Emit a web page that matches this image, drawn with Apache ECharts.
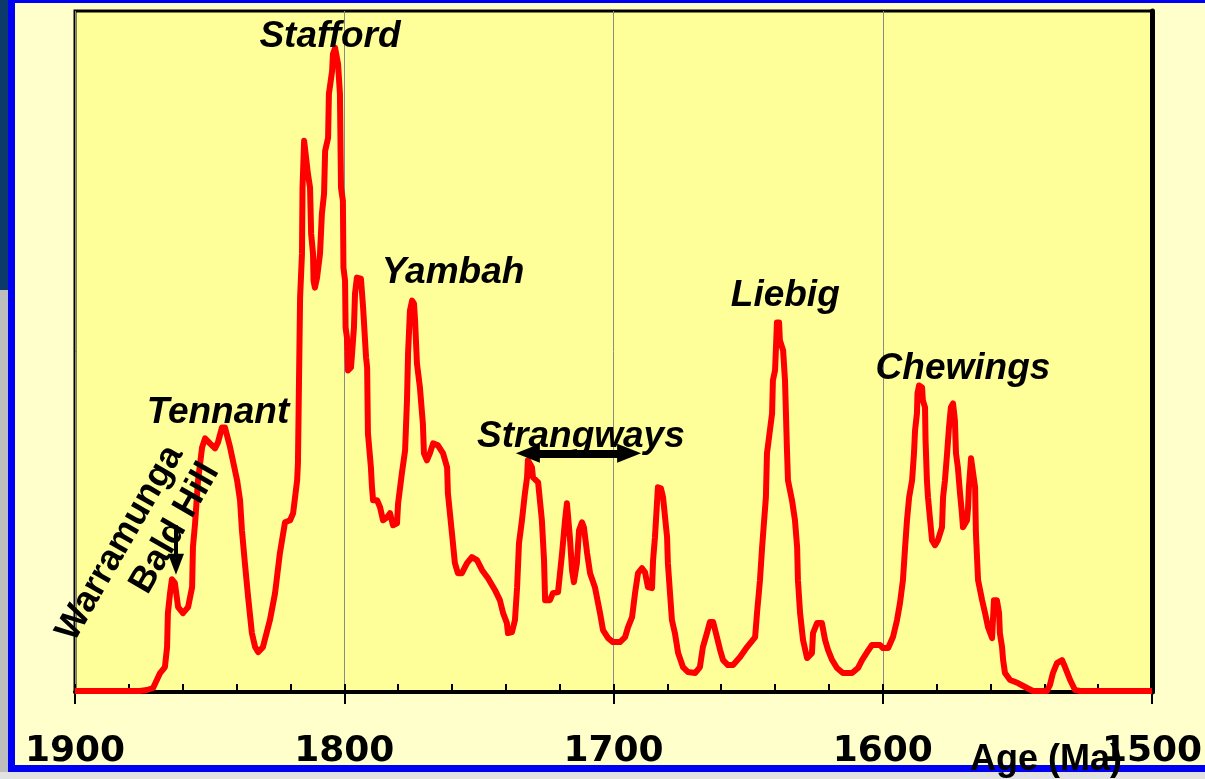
<!DOCTYPE html>
<html><head><meta charset="utf-8">
<script src="https://cdn.jsdelivr.net/npm/echarts@6/dist/echarts.min.js"></script>
<style>
html,body{margin:0;padding:0;width:1205px;height:779px;overflow:hidden;background:#FFFFCC;}
#navy{position:absolute;left:0;top:0;width:8px;height:290px;background:#0B3A6B;}
#photo{position:absolute;left:0;top:290px;width:8px;height:489px;background:#BDBDBD;}
#bottom{position:absolute;left:0;top:772px;width:1205px;height:7px;background:#E2E2E2;}
#frame{position:absolute;left:8px;top:0;width:1300px;height:762px;border-left:7px solid #0000F5;border-top:3px solid #0000F5;border-bottom:7px solid #0000F5;}
#chart{position:absolute;left:0;top:0;width:1205px;height:779px;}
</style></head>
<body>
<div id="navy"></div><div id="photo"></div><div id="bottom"></div><div id="frame"></div>
<div id="chart"></div>
<script>
// Age (Ma) vs relative probability (arbitrary units, 0-682)
const segTennant = [[1900,1],[1875.9,1],[1873.3,2],[1871.0,4],[1868.4,19],[1866.6,25],[1865.8,45],[1865.5,79],[1864.7,99],[1864.0,113],[1862.9,109],[1861.7,85],[1859.9,79],[1858.0,85],[1856.5,105],[1856.2,145],[1855.4,169],[1854.3,212],[1852.8,245],[1851.7,254],[1849.9,249],[1848.0,244],[1846.9,250],[1845.4,265],[1844.3,265],[1842.4,245],[1839.8,212],[1838.7,192],[1838.0,162],[1836.9,129],[1835.7,95],[1834.3,59],[1833.1,45],[1832.0,40],[1830.2,45],[1827.6,72],[1825.7,99],[1823.9,139],[1822.0,170],[1820.1,172],[1819.0,179]];
const segStafford = [[1817.5,212],[1817.2,229],[1816.8,312],[1816.4,395],[1815.7,439],[1815.5,505],[1814.9,552],[1814.2,552],[1813.5,519],[1812.7,505],[1812.3,459],[1811.6,439],[1811.4,412],[1810.9,405],[1810.1,415],[1809.0,439],[1808.3,479],[1807.5,499],[1807.1,542],[1806.0,555],[1805.7,599],[1804.5,622],[1804.2,639],[1803.4,645],[1802.7,645],[1802.3,629],[1801.6,599],[1801.2,505],[1800.5,492],[1800.3,425],[1799.7,412],[1799.5,365],[1799.0,355],[1798.6,322],[1797.5,325],[1797.1,339],[1796.4,365],[1796.0,399],[1795.3,415],[1793.8,414],[1793.0,385],[1791.9,335],[1791.5,325],[1791.2,259],[1790.1,225],[1789.7,205],[1789.3,192],[1787.8,192],[1786.7,185],[1785.6,172],[1784.1,175],[1783.0,179],[1781.9,167],[1780.4,169]];
const segYambah = [[1780.0,189],[1778.6,219],[1777.4,242],[1776.7,292],[1776.3,339],[1775.6,382],[1774.8,392],[1774.1,389],[1773.7,372],[1773.0,329],[1771.9,305],[1770.8,269],[1770.4,239],[1769.3,232],[1768.2,239],[1767.0,249],[1765.2,247],[1763.3,239],[1761.8,225],[1761.5,199],[1760.0,159],[1758.9,129],[1757.8,119],[1756.3,119],[1754.4,129],[1752.6,135],[1750.7,132],[1748.8,122],[1746.6,114],[1744.0,102],[1742.2,92],[1741.0,79],[1739.6,69],[1739.2,59],[1737.7,60]];
const segStrangways = [[1736.6,72],[1735.8,105],[1735.1,149],[1734.0,172],[1732.9,199],[1732.1,215],[1731.8,232],[1730.3,225],[1729.9,215],[1728.0,210],[1726.6,172],[1725.8,132],[1725.4,92],[1723.6,92],[1722.5,99],[1720.6,100],[1719.1,139],[1718.0,172],[1717.3,189],[1716.9,189],[1716.2,155],[1715.4,122],[1714.7,110],[1713.6,129],[1712.8,162],[1711.7,170],[1711.0,165],[1709.8,139],[1708.7,119],[1706.9,105],[1705.0,79],[1703.9,62],[1702.0,54],[1700.2,50],[1697.6,50],[1695.7,55],[1694.6,65],[1693.1,75],[1692.0,99],[1690.9,119],[1689.4,124],[1688.3,120],[1687.2,105],[1685.7,104],[1685.3,132],[1684.6,155],[1683.5,205],[1682.4,204],[1681.6,195],[1680.1,155],[1679.8,129],[1678.3,72],[1677.2,59],[1676.0,39],[1674.2,25],[1672.3,20],[1669.7,19]];
const segLiebig = [[1667.9,25],[1666.8,45],[1665.3,59],[1664.2,70],[1663.0,70],[1661.6,55],[1660.4,42],[1659.3,32],[1657.5,27],[1655.6,27],[1653.0,35],[1650.4,45],[1647.4,55],[1646.7,79],[1645.6,112],[1644.8,145],[1643.4,195],[1643.0,239],[1641.1,279],[1640.8,312],[1640.0,322],[1639.6,349],[1639.3,370],[1638.5,370],[1638.2,352],[1637.0,342],[1636.3,312],[1635.6,245],[1635.2,212],[1633.7,192],[1632.6,172],[1631.8,145],[1631.5,112],[1630.7,79],[1629.6,52],[1628.1,34],[1626.3,39],[1625.9,59],[1624.4,69],[1622.6,69],[1621.4,52],[1620.3,42],[1618.8,32],[1617.0,24],[1614.8,19],[1611.4,19],[1609.2,24],[1607.7,32],[1605.8,40],[1604.0,47],[1601.0,47],[1599.9,44],[1598.0,44]];
const segChewings = [[1596.2,55],[1594.7,72],[1593.6,89],[1592.5,112],[1591.7,145],[1591.0,172],[1590.2,195],[1589.1,212],[1588.4,239],[1588.0,262],[1587.3,279],[1587.1,299],[1586.5,307],[1585.4,305],[1585.1,292],[1584.3,285],[1584.1,252],[1583.6,212],[1583.2,195],[1582.4,172],[1581.7,152],[1580.6,147],[1579.5,152],[1578.0,165],[1577.6,195],[1576.9,212],[1576.1,239],[1575.4,265],[1574.7,285],[1573.9,289],[1573.5,289],[1573.2,272],[1572.8,239],[1572.1,225],[1571.3,199],[1570.6,179],[1570.2,165],[1569.5,165],[1568.7,172],[1568.3,185],[1568.0,205],[1567.2,234],[1566.5,234],[1565.7,205],[1565.4,159],[1564.6,112],[1563.1,92],[1562.0,79],[1560.9,65],[1559.4,54],[1559.1,54],[1558.7,92],[1557.6,92],[1556.8,79],[1556.5,59],[1555.7,45],[1555.3,32],[1554.6,19]];
const segTail = [[1552.7,12],[1549.8,9],[1546.4,4],[1544.2,1],[1539.0,1],[1537.9,7],[1536.8,19],[1535.3,29],[1533.4,32],[1532.3,25],[1530.4,12],[1528.6,2],[1526.7,1],[1500,1]];

const tickAges = [1500, 1600, 1700, 1800, 1900];
const eventNames = ['Stafford','Yambah','Tennant','Liebig','Chewings','Strangways','Warramunga','Bald Hill'];
const eventAges  = [1805.3, 1759.6, 1846.9, 1636.2, 1570.2, 1712.1, 1883.3, 1862.9];
const eventLevels = [656, 420, 280, 397, 324, 256, 149, 164];
// arrows: [fromAge, fromLevel, toAge, toLevel]
const strangwaysSpan = [1731.8, 239, 1694.2, 239];
const baldHillArrow = [1862.5, 167, 1862.5, 128];

const curve = [].concat(segTennant, segStafford, segYambah, segStrangways, segLiebig, segChewings, segTail);

const chart = echarts.init(document.getElementById('chart'));
const rotated = {'Warramunga': 60, 'Bald Hill': 60};

const option = {
  animation: false,
  grid: {left: 75, right: 53, top: 11, bottom: 87, show: true, backgroundColor: '#FFFF99', borderColor: '#000', borderWidth: 3,
         outerBoundsMode: 'none', containLabel: false},
  xAxis: [{
    type: 'value', min: tickAges[0], max: tickAges[tickAges.length-1], interval: 100, inverse: true,
    axisLine: {show: true, onZero: false, lineStyle: {color: '#000', width: 4}},
    axisTick: {show: true, inside: false, length: 12, lineStyle: {color: '#000', width: 2}},
    axisLabel: {margin: 42, color: '#000', fontFamily: 'DejaVu Sans', fontWeight: 'bold', fontSize: 36,
                formatter: v => String(v), hideOverlap: false},
    splitLine: {show: true, lineStyle: {color: '#8a8a8a', width: 1}}
  }, {
    type: 'value', position: 'bottom', min: 1500, max: 1900, interval: 20, inverse: true,
    axisLine: {show: false},
    axisTick: {show: true, inside: true, length: 8, lineStyle: {color: '#000', width: 2}},
    axisLabel: {show: false}, splitLine: {show: false}
  }],
  yAxis: [{type: 'value', min: 0, max: 682, show: false},
    {type: 'value', position: 'right', min: 0, max: 682,
     axisLine: {show: true, lineStyle: {color: '#000', width: 5}},
     axisTick: {show: false}, axisLabel: {show: false}, splitLine: {show: false}}],
  series: [{
    type: 'line', data: curve, xAxisIndex: 0, yAxisIndex: 0, symbol: 'none', z: 3,
    lineStyle: {color: '#FF0000', width: 6, join: 'round'},
    emphasis: {disabled: true},
    markLine: {
      silent: true, label: {show: false}, emphasis: {disabled: true},
      data: [
        [{coord: [strangwaysSpan[0], strangwaysSpan[1]], symbol: 'triangle', symbolSize: [19, 24], lineStyle: {color: '#000', width: 8, type: 'solid'}},
         {coord: [strangwaysSpan[2], strangwaysSpan[3]], symbol: 'triangle', symbolSize: [19, 24]}],
        [{coord: [baldHillArrow[0], baldHillArrow[1]], symbol: 'none', lineStyle: {color: '#000', width: 4, type: 'solid'}},
         {coord: [baldHillArrow[2], baldHillArrow[3]], symbol: 'triangle', symbolSize: [16, 21]}]
      ],
      itemStyle: {color: '#000'}
    },
    markPoint: {
      silent: true, symbol: 'circle', symbolSize: 1, itemStyle: {color: 'rgba(0,0,0,0)'},
      label: {show: true, position: 'inside', color: '#000', fontFamily: 'Liberation Sans', fontWeight: 'bold', fontStyle: 'italic', fontSize: 37},
      data: eventNames.map((n, i) => ({
        coord: [eventAges[i], eventLevels[i]], value: n,
        label: rotated[n] ? {formatter: n, rotate: rotated[n], fontStyle: 'normal', fontSize: 36} : {formatter: n}
      }))
    }
  }],
  graphic: [{
    type: 'text', x: 970, y: 760, z: 100,
    style: {text: 'Age (Ma)', font: 'bold 36px "Liberation Sans"', fill: '#000', textVerticalAlign: 'middle'}
  }]
};
chart.setOption(option);
</script>
</body></html>
